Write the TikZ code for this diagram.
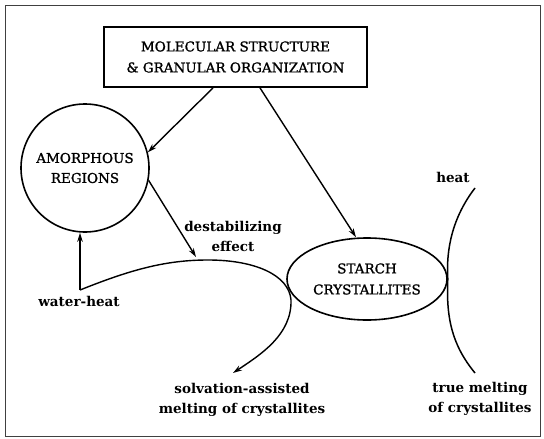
\documentclass[tikz,border=0pt]{standalone}
\usepackage{fontspec}
\setmainfont{DejaVu Serif}
\newfontfamily\capsfont[FakeBold=1.2]{DejaVu Serif}
\usetikzlibrary{arrows.meta, shapes.geometric}

\begin{document}
\begin{tikzpicture}[
  x=1pt, y=-1pt,
  box/.style={
    draw, line width=1.8pt, minimum width=263pt,
    minimum height=60pt, align=center,
    font=\capsfont\fontsize{13.5}{21}\selectfont
  },
  region/.style={draw, circle, line width=1.6pt, minimum size=128pt,
    align=center, font=\capsfont\fontsize{13.5}{20}\selectfont},
  cryst/.style={draw, ellipse, line width=1.6pt, minimum width=160pt,
    minimum height=82pt, inner sep=0pt, align=center,
    font=\capsfont\fontsize{13.5}{21}\selectfont},
  lbl/.style={align=center, font=\fontsize{13.5}{20}\selectfont\bfseries},
  arr/.style={-{Stealth[length=9pt,width=5.5pt]}, line width=1.4pt},
  curve/.style={line width=1.5pt}
]
  \useasboundingbox (0,0) rectangle (544,439);
  \draw[line width=0.8pt, black!75] (5,5) rectangle (540,436);

  \node[box]    (mol)    at (235.5,57) {MOLECULAR STRUCTURE\\ \& GRANULAR ORGANIZATION};
  \node[region] (amorph) at (85,168)   {AMORPHOUS\\REGIONS};
  \node[cryst]  (starch) at (367,279)  {STARCH\\CRYSTALLITES};

  \node[lbl] (heat)      at (453,177) {heat};
  \node[lbl] (waterheat) at (79,301)  {water-heat};
  \node[lbl] (destab)    at (233,236) {destabilizing\\effect};
  \node[lbl] (solvation) at (242,400) {solvation-assisted\\melting of crystallites};
  \node[lbl] (truemelt)  at (480,399) {true melting\\of crystallites};

  \coordinate (wh)      at (80,290);
  \coordinate (crest)   at (208,260);
  \coordinate (hit)     at (196,257);
  \coordinate (turn)    at (291,300);
  \coordinate (solvtip) at (233,373);
  \coordinate (heattop) at (475,188);
  \coordinate (meltbot) at (475,373);

  \draw[arr] ([xshift=-22.5pt]mol.south) -- (amorph.14);
  \draw[arr] ([xshift=24.5pt]mol.south) -- ([xshift=-11pt]starch.north);
  \draw[arr] (amorph.-11) -- (hit);
  \draw[arr] (wh) -- (wh |- amorph.south);

  \draw[curve, arr] (wh) .. controls (130,270) and (165,260) .. (crest)
    .. controls (255,260) and (289,275) .. (turn)
    .. controls (292,335) and (260,355) .. (solvtip);
  \draw[curve] (heattop) .. controls (452,218) and (446,250) .. (starch.east)
    .. controls (446,318) and (452,345) .. (meltbot);
\end{tikzpicture}
\end{document}
